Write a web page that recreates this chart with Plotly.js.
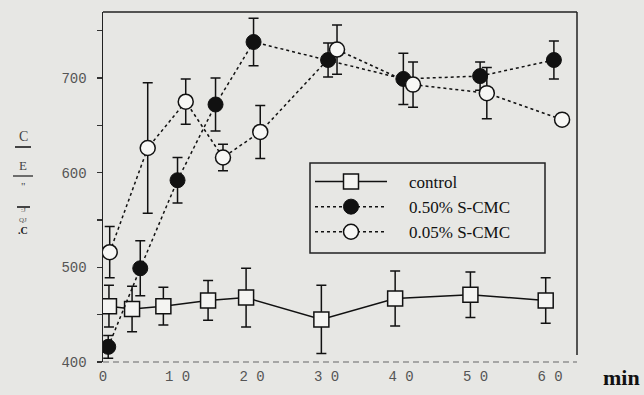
<!DOCTYPE html>
<html>
<head>
<meta charset="utf-8">
<script src="https://cdn.plot.ly/plotly-3.0.1.min.js"></script>
<style>
  html, body { margin: 0; padding: 0; background: #e7e7e4; }
  #chart { width: 644px; height: 395px; }
</style>
</head>
<body>
<div id="chart"></div>
<script>
// ---- data ----
const seriesNames = ["control", "0.50% S-CMC", "0.05% S-CMC"];

const controlTime = [0.8, 3.9, 8.1, 14.1, 19.2, 29.3, 39.2, 49.3, 59.4];
const controlVal  = [459, 456, 459, 465, 468, 445, 467, 471, 465];
const controlErr  = [22, 24, 20, 21, 31, 36, 29, 24, 24];

const highTime = [0.7, 5.0, 10.0, 15.1, 20.2, 30.2, 40.3, 50.6, 60.5];
const highVal  = [416, 499, 592, 672, 738, 719, 699, 702, 719];
const highErr  = [12, 29, 24, 28, 25, 18, 27, 15, 20];

const lowTime = [0.9, 6.0, 11.1, 16.1, 21.1, 31.4, 41.6, 51.5, 61.6];
const lowVal  = [516, 626, 675, 616, 643, 730, 693, 684, 656];
const lowErr  = [27, 69, 24, 14, 28, 26, 24, 27, 5];

const yTickVals = [400, 500, 600, 700];
const xTickVals = [0, 10, 20, 30, 40, 50, 60];
const xTickText = ["0", "1 0", "2 0", "3 0", "4 0", "5 0", "6 0"];

// ---- traces ----
const errStyle = {type: "data", visible: true, color: "#111", thickness: 1.5, width: 5};
const pad = "\u00a0\u00a0\u00a0\u00a0";

const traces = [
  {
    x: controlTime, y: controlVal, name: pad + seriesNames[0], type: "scatter", mode: "lines+markers",
    line: {color: "#111", width: 1.5},
    marker: {symbol: "square", size: 15, color: "#f4f4f2", line: {color: "#111", width: 1.5}},
    error_y: Object.assign({array: controlErr}, errStyle)
  },
  {
    x: highTime, y: highVal, name: pad + seriesNames[1], type: "scatter", mode: "lines+markers",
    line: {color: "#111", width: 1.5, dash: "dot"},
    marker: {symbol: "circle", size: 15, color: "#111", line: {color: "#111", width: 1}},
    error_y: Object.assign({array: highErr}, errStyle)
  },
  {
    x: lowTime, y: lowVal, name: pad + seriesNames[2], type: "scatter", mode: "lines+markers",
    line: {color: "#111", width: 1.5, dash: "3px,3px"},
    marker: {symbol: "circle", size: 15, color: "#f7f7f5", line: {color: "#111", width: 1.5}},
    error_y: Object.assign({array: lowErr}, errStyle)
  }
];

const bg = "#e7e7e4";
const L = 103, R = 577, T = 12, B = 362;
const pw = R - L, ph = B - T;
const px = v => (v - L) / pw;
const py = v => (B - v) / ph;
const serif = "Liberation Serif, serif";

function glyph(text, x, y, size, color, bold) {
  return {text: text, xref: "paper", yref: "paper", x: px(x), y: py(y),
          xanchor: "center", yanchor: "middle", showarrow: false,
          font: {family: serif, size: size, color: color, weight: bold ? "bold" : "normal"}};
}

const layout = {
  width: 644, height: 395,
  paper_bgcolor: bg, plot_bgcolor: bg,
  margin: {l: L, r: 644 - R, t: T, b: 395 - B},
  showlegend: true,
  legend: {
    x: px(310), y: py(164), xanchor: "left", yanchor: "top",
    bgcolor: "rgba(0,0,0,0)", borderwidth: 0,
    font: {family: serif, size: 17, color: "#111"},
    itemwidth: 72
  },
  xaxis: {
    range: [0, 63.6], showgrid: false, zeroline: false, showline: false,
    tickvals: xTickVals, ticktext: xTickText, ticks: "",
    tickfont: {family: "Liberation Mono, monospace", size: 14, color: "#555"},
    ticklabelstandoff: 4
  },
  yaxis: {
    range: [400, 769.7], showgrid: false, zeroline: false,
    showline: true, linecolor: "#222", linewidth: 1.5,
    tickvals: yTickVals, ticks: "outside", ticklen: 5, tickcolor: "#333", tickwidth: 1.2,
    minor: {dtick: 50, ticks: "outside", ticklen: 5, tickcolor: "#333", tickwidth: 1.2},
    tickfont: {family: "Liberation Mono, monospace", size: 14, color: "#555"},
    ticklabelstandoff: 7
  },
  shapes: [
    {type: "rect", xref: "paper", yref: "paper", x0: px(310), x1: px(545), y0: py(253), y1: py(163),
     line: {color: "#222", width: 1.5}, fillcolor: bg, layer: "below"},
    {type: "line", xref: "paper", yref: "paper", x0: 0, x1: 1, y0: 1, y1: 1, line: {color: "#222", width: 1.5}},
    {type: "line", xref: "paper", yref: "paper", x0: 1, x1: 1, y0: py(355), y1: 1, line: {color: "#222", width: 1.5}},
    {type: "line", xref: "paper", yref: "paper", x0: 0, x1: 1, y0: 0, y1: 0, line: {color: "#666", width: 1.2, dash: "6px,4px"}},
    {type: "line", xref: "paper", yref: "paper", x0: px(15), x1: px(31), y0: py(147), y1: py(147), line: {color: "#444", width: 2}},
    {type: "line", xref: "paper", yref: "paper", x0: px(13), x1: px(33), y0: py(176), y1: py(176), line: {color: "#444", width: 1.5}},
    {type: "line", xref: "paper", yref: "paper", x0: px(17), x1: px(30), y0: py(207), y1: py(207), line: {color: "#444", width: 2}}
  ],
  annotations: [
    {text: "min", xref: "paper", yref: "paper", x: px(642), y: py(377), xanchor: "right", yanchor: "middle", showarrow: false,
     font: {family: serif, size: 22, color: "#111", weight: "bold"}},
    glyph("C", 23, 136, 14, "#444", false),
    glyph("E", 23, 166, 13, "#444", false),
    glyph("\"", 23, 186, 11, "#444", false),
    glyph(":J", 23, 210, 7, "#555", false),
    glyph("QJ", 23, 220, 7, "#555", false),
    glyph(".C", 23, 231, 10, "#222", true)
  ]
};

Plotly.newPlot("chart", traces, layout, {displayModeBar: false, staticPlot: true});
</script>
</body>
</html>
